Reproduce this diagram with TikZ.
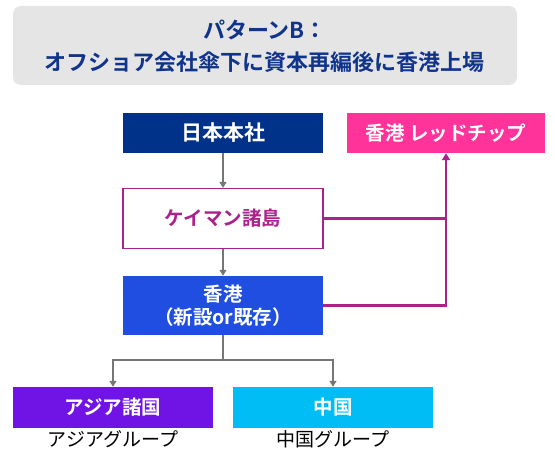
\documentclass[tikz,border=0pt]{standalone}
\usepackage{fontspec}
\setmainfont{Noto Sans CJK JP}
\newfontfamily\jpb{Noto Sans CJK JP Bold}
\usetikzlibrary{arrows.meta}
\definecolor{titlebg}{RGB}{229,229,229}
\definecolor{titletx}{RGB}{16,52,140}
\definecolor{navy}{RGB}{0,50,138}
\definecolor{pinkc}{RGB}{255,51,153}
\definecolor{mag}{RGB}{170,34,140}
\definecolor{bluec}{RGB}{32,78,225}
\definecolor{purp}{RGB}{112,20,230}
\definecolor{cyanc}{RGB}{0,190,245}
\definecolor{grayc}{RGB}{118,118,118}
\tikzset{
  box/.style={minimum width=200pt, inner sep=0pt, align=center, font=\jpb\fontsize{19.5}{23}\selectfont, text=white},
  garrow/.style={draw=grayc, line width=2.2pt, -{Triangle[length=6pt,width=7pt]}},
  marrow/.style={draw=mag, line width=2.4pt},
}
\begin{document}
\begin{tikzpicture}[x=1pt,y=-1pt]
\useasboundingbox (0,0) rectangle (555,454);
\fill[titlebg, rounded corners=8pt] (13,6) rectangle (517,85);
\node[font=\jpb\fontsize{22}{32}\selectfont, text=titletx, align=center] (title) at (265,46) {パターンB：\\オフショア会社傘下に資本再編後に香港上場};
\node[box, fill=navy, minimum height=40pt, font=\jpb\fontsize{21}{24}\selectfont] (jp) at (223,133) {日本本社};
\node[box, fill=pinkc, minimum width=198pt, minimum height=40pt] (rc) at (446,133) {香港 レッドチップ};
\node[box, fill=white, draw=mag, line width=1.2pt, text=mag, minimum height=60pt] (cay) at (223,218.5) {ケイマン諸島};
\node[box, fill=bluec, minimum height=59pt] (hk) at (223,305.5) {香港\\（新設or既存）};
\node[box, fill=purp, minimum height=41pt] (asia) at (113,407.5) {アジア諸国};
\node[box, fill=cyanc, minimum height=41pt] (cn) at (333,407.5) {中国};
\node[font=\fontsize{19}{22}\selectfont, anchor=north] (asial) at (113,427) {アジアグループ};
\node[font=\fontsize{19}{22}\selectfont, anchor=north] (cnl) at (333,427) {中国グループ};
\coordinate (br) at (223,360);
\draw[garrow] (jp.south) -- (cay.north);
\draw[garrow] (cay.south) -- (hk.north);
\draw[draw=grayc, line width=2.2pt] (hk.south) -- (br);
\draw[garrow] (br) -| (asia.north);
\draw[garrow] (br) -| (cn.north);
\draw[marrow] (cay.east) -- (cay.east -| rc.south);
\draw[marrow, -{Triangle[length=7pt,width=8pt]}] (hk.east) -| (rc.south);
\end{tikzpicture}
\end{document}
